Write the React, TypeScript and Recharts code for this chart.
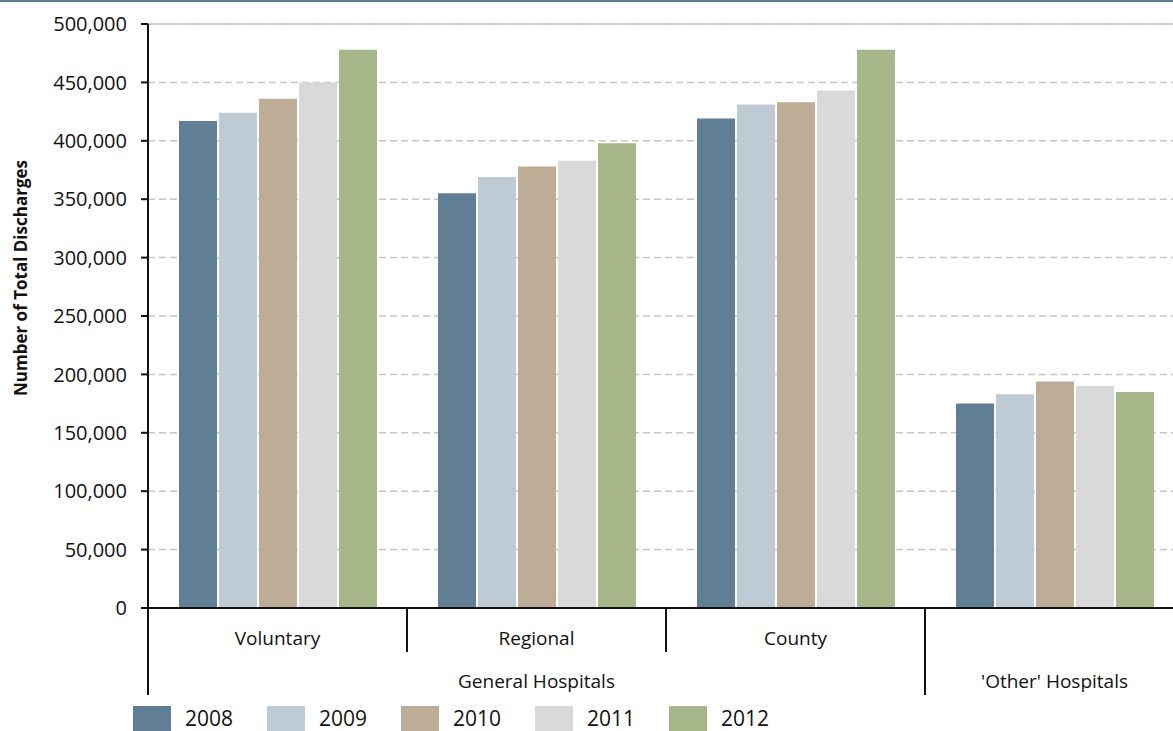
import React from 'react';
import { BarChart, Bar, XAxis, YAxis, CartesianGrid, ReferenceLine } from 'recharts';

const categories = ['Voluntary', 'Regional', 'County', ''];
const groups = ['General Hospitals', 'General Hospitals', 'General Hospitals', "'Other' Hospitals"];
const years = ['2008', '2009', '2010', '2011', '2012'];
const colors = ['#607f95', '#bfcbd4', '#bead96', '#d9d9d9', '#a7b78a'];

const v2008 = [417000, 355000, 419000, 175000];
const v2009 = [424000, 369000, 431000, 183000];
const v2010 = [436000, 378000, 433000, 194000];
const v2011 = [450000, 383000, 443000, 190000];
const v2012 = [478000, 398000, 478000, 185000];

const yTicks = [0, 50000, 100000, 150000, 200000, 250000, 300000, 350000, 400000, 450000, 500000];

const series = [v2008, v2009, v2010, v2011, v2012];

const data = categories.map((name, i) => {
  const row: any = { name, group: groups[i] };
  years.forEach((y, s) => {
    row[y] = series[s][i];
  });
  return row;
});

const FONT = '"Open Sans", sans-serif';

const CategoryTick = (props: any) => {
  const { x, y, payload, index } = props;
  const band = 259;
  const left = x - band / 2;
  const i = payload.index ?? index;
  const startsGroup = i === 0 || groups[i] !== groups[i - 1];
  const groupStart = groups.indexOf(groups[i]);
  const groupEnd = groups.lastIndexOf(groups[i]);
  const showGroup = Math.floor((groupStart + groupEnd) / 2) === i;
  // centre of the group's span
  const groupX = x + ((groupStart + groupEnd) / 2 - i) * band;
  return (
    <g>
      <line x1={left} x2={left} y1={y} y2={startsGroup ? y + 87 : y + 44} stroke="#111" strokeWidth={2} />
      <text x={x} y={y + 37} textAnchor="middle" fontSize={19} fill="#111" fontFamily={FONT}>
        {categories[i]}
      </text>
      {showGroup && (
        <text x={groupX} y={y + 80} textAnchor="middle" fontSize={19} fill="#111" fontFamily={FONT}>
          {groups[i]}
        </text>
      )}
    </g>
  );
};

const App = () => {
  return (
    <div style={{ position: 'fixed', top: 0, left: 0, width: 1173, height: 731, overflow: 'hidden', background: '#fff' }}>
      <div style={{ position: 'absolute', top: 0, left: 0, width: 1173, height: 2, background: '#5b7f99' }} />
      <BarChart
        width={1184}
        height={731}
        data={data}
        margin={{ top: 24, right: 0, left: 0, bottom: 33 }}
        barCategoryGap={31}
        barGap={2}
      >
        <CartesianGrid vertical={false} strokeDasharray="7 4" stroke="#c6c6c6" strokeWidth={1.5} />
        <ReferenceLine y={500000} stroke="#c6c6c6" strokeWidth={1.5} />
        <XAxis
          dataKey="name"
          height={90}
          interval={0}
          tickSize={0}
          tickMargin={0}
          tickLine={false}
          axisLine={{ stroke: '#111', strokeWidth: 2 }}
          tick={<CategoryTick />}
        />
        <YAxis
          width={148}
          domain={[0, 500000]}
          ticks={yTicks}
          interval={0}
          tickSize={7}
          tickMargin={14}
          tickLine={{ stroke: '#111', strokeWidth: 2 }}
          axisLine={{ stroke: '#111', strokeWidth: 2 }}
          tick={{ fontSize: 20, fill: '#111', fontFamily: FONT }}
          tickFormatter={(v: number) => v.toLocaleString('en-US')}
        />
        {years.map((y, s) => (
          <Bar key={y} dataKey={y} fill={colors[s]} isAnimationActive={false} />
        ))}
      </BarChart>
      <svg style={{ position: 'absolute', left: 0, top: 0 }} width={40} height={731}>
        <text
          x={20}
          y={278}
          transform="rotate(-90, 20, 278)"
          textAnchor="middle"
          dominantBaseline="central"
          fontSize={17}
          fontWeight="bold"
          fill="#111"
          fontFamily={FONT}
        >
          Number of Total Discharges
        </text>
      </svg>
      <div style={{ position: 'absolute', left: 133, top: 706, display: 'flex', fontFamily: FONT, fontSize: 21, color: '#111' }}>
        {years.map((y, s) => (
          <div key={y} style={{ display: 'flex', alignItems: 'flex-start', width: 134 }}>
            <div style={{ width: 38, height: 25, background: colors[s] }} />
            <span style={{ marginLeft: 14, lineHeight: '24px' }}>{y}</span>
          </div>
        ))}
      </div>
    </div>
  );
};

export default App;
